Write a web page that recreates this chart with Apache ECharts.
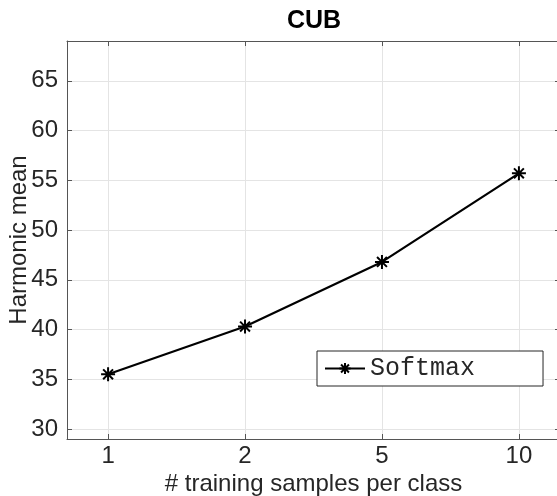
<!DOCTYPE html>
<html>
<head>
<meta charset="utf-8">
<script src="https://cdn.jsdelivr.net/npm/echarts@6/dist/echarts.min.js"></script>
<style>
html,body{margin:0;padding:0;background:#fff;}
#chart{width:557px;height:496px;}
</style>
</head>
<body>
<div id="chart"></div>
<script>
var categories = ['1', '2', '5', '10'];
var softmaxValues = [35.5, 40.3, 46.8, 55.7];
var yTicks = [30, 35, 40, 45, 50, 55, 60, 65];
var xPositions = [1, 2, 3, 4];

var seriesData = xPositions.map(function (x, i) { return [x, softmaxValues[i]]; });
var starPath = 'path://M6,0L6,12M0,6L12,6M1.76,1.76L10.24,10.24M1.76,10.24L10.24,1.76';
var axisCol = '#555555';
var textCol = '#262626';
var gridCol = '#e4e4e4';
var font = 'Liberation Sans, Arial, Helvetica, sans-serif';

var chart = echarts.init(document.getElementById('chart'), null, {renderer: 'canvas'});

function xAxisCfg(pos, main) {
  return {
    type: 'value', position: pos, min: 0.7, max: 4.3,
    axisLine: {show: true, onZero: false, lineStyle: {color: axisCol, width: 1}},
    axisTick: {show: true, inside: true, length: 5, customValues: xPositions, lineStyle: {color: axisCol}},
    axisLabel: main ? {show: true, customValues: xPositions, margin: 5, fontSize: 24, color: textCol, fontFamily: font,
      formatter: function (v) { return categories[Math.round(v) - 1]; }} : {show: false},
    splitLine: {show: main, lineStyle: {color: gridCol, width: 1}},
    name: main ? '# training samples per class' : '',
    nameLocation: 'middle', nameGap: 33, nameMoveOverlap: false,
    nameTextStyle: {fontSize: 24, color: textCol, fontFamily: font}
  };
}
function yAxisCfg(pos, main) {
  return {
    type: 'value', position: pos, min: 29, max: 69,
    axisLine: {show: true, onZero: false, lineStyle: {color: axisCol, width: 1}},
    axisTick: {show: true, inside: true, length: 5, customValues: yTicks, lineStyle: {color: axisCol}},
    axisLabel: main ? {show: true, customValues: yTicks, margin: 9, fontSize: 24, color: textCol, fontFamily: font} : {show: false},
    splitLine: {show: main, lineStyle: {color: gridCol, width: 1}},
    name: main ? 'Harmonic mean' : '',
    nameLocation: 'middle', nameGap: 36, nameMoveOverlap: false,
    nameTextStyle: {fontSize: 24, color: textCol, fontFamily: font}
  };
}

chart.setOption({
  animation: false,
  backgroundColor: '#ffffff',
  title: {
    text: 'CUB', left: 287, top: 9, padding: 0,
    textStyle: {fontSize: 25, fontWeight: 'bold', color: '#000', fontFamily: font}
  },
  grid: {left: 67, top: 41, right: -3, bottom: 57, containLabel: false, outerBoundsMode: 'none'},
  xAxis: [xAxisCfg('bottom', true), xAxisCfg('top', false)],
  yAxis: [yAxisCfg('left', true), yAxisCfg('right', false)],
  legend: {
    show: true, left: 317, top: 351,
    orient: 'horizontal',
    backgroundColor: '#ffffff',
    borderColor: '#262626', borderWidth: 1,
    padding: [5, 68, 5, 7],
    itemWidth: 40, itemHeight: 14, itemGap: 5,
    textStyle: {fontSize: 25, color: textCol, fontFamily: 'Liberation Mono, Courier New, monospace'},
    data: ['Softmax']
  },
  series: [{
    name: 'Softmax', type: 'line',
    data: seriesData,
    symbol: starPath, symbolSize: 14, showSymbol: true,
    lineStyle: {color: '#000', width: 2.2},
    itemStyle: {color: '#000', borderColor: '#000', borderWidth: 2}
  }]
});
</script>
</body>
</html>
